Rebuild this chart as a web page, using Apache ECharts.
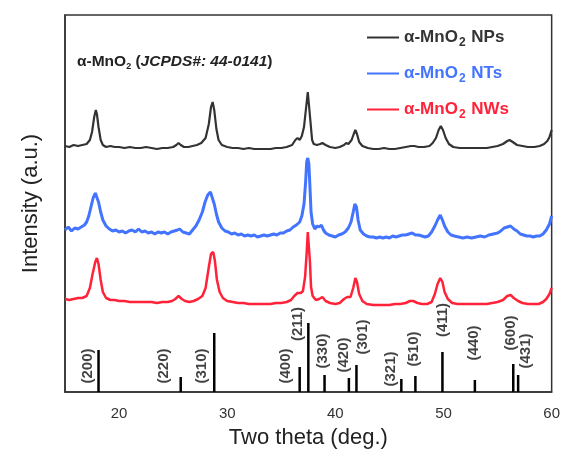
<!DOCTYPE html>
<html>
<head>
<meta charset="utf-8">
<script src="https://cdn.jsdelivr.net/npm/echarts@6/dist/echarts.min.js"></script>
<style>
  html, body { margin: 0; padding: 0; background: #fff; }
  #chart { width: 563px; height: 459px; }
</style>
</head>
<body>
<div id="chart"></div>
<script>
/* ── Data (2θ in degrees, intensity in a.u., stacked offsets baked in) ── */
const X_TICKS = [20, 30, 40, 50, 60];

const NP_CURVE = [
  [15.0, 246], [15.4, 245], [15.8, 247], [16.2, 246], [16.6, 247], [17.0, 248], [17.3, 252], [17.5, 260],
  [17.7, 275], [17.85, 282], [17.95, 278], [18.1, 265], [18.3, 252], [18.5, 247], [18.8, 245], [19.2, 246],
  [19.6, 245], [20.0, 245], [20.5, 244], [21.0, 245], [21.5, 244], [22.0, 244], [22.5, 245], [23.0, 244],
  [23.5, 243], [24.0, 244], [24.5, 244], [25.0, 245], [25.3, 247], [25.5, 249], [25.7, 247], [26.0, 245],
  [26.4, 245], [26.8, 246], [27.2, 247], [27.6, 249], [28.0, 254], [28.3, 268], [28.5, 285], [28.65, 290],
  [28.8, 282], [29.0, 263], [29.2, 252], [29.5, 247], [30.0, 245], [30.5, 244], [31.0, 244], [31.5, 243],
  [32.0, 244], [32.5, 243], [33.0, 243], [33.5, 243], [34.0, 243], [34.5, 244], [35.0, 244], [35.5, 245],
  [36.0, 247], [36.3, 252], [36.5, 254], [36.7, 252], [36.9, 256], [37.1, 265], [37.3, 285], [37.45, 300],
  [37.55, 298], [37.7, 270], [37.85, 252], [38.0, 248], [38.3, 247], [38.6, 248], [38.8, 249], [39.1, 247],
  [39.5, 245], [40.0, 244], [40.4, 245], [40.8, 247], [41.0, 249], [41.2, 248], [41.5, 252], [41.7, 258],
  [41.85, 262], [42.0, 258], [42.2, 250], [42.5, 246], [43.0, 244], [43.5, 243], [44.0, 243], [44.5, 244],
  [45.0, 243], [45.5, 243], [46.0, 244], [46.5, 245], [47.0, 246], [47.3, 246], [47.7, 245], [48.2, 245],
  [48.7, 246], [49.0, 249], [49.3, 254], [49.55, 262], [49.75, 266], [49.95, 262], [50.2, 254], [50.5, 248],
  [50.9, 245], [51.5, 244], [52.0, 244], [52.5, 244], [53.0, 244], [53.5, 244], [54.0, 244], [54.5, 245],
  [55.0, 246], [55.5, 248], [55.9, 251], [56.1, 252], [56.4, 250], [56.8, 247], [57.3, 246], [57.8, 245],
  [58.4, 245], [58.9, 246], [59.3, 248], [59.6, 251], [59.8, 255], [60.0, 262]
];

const NT_CURVE = [
  [15.0, 162], [15.3, 165], [15.6, 161], [15.9, 164], [16.2, 163], [16.5, 165], [16.8, 167], [17.0, 170],
  [17.2, 176], [17.4, 185], [17.6, 194], [17.8, 199], [17.95, 197], [18.1, 190], [18.3, 180], [18.5, 172],
  [18.8, 166], [19.1, 163], [19.4, 161], [19.7, 162], [20.0, 160], [20.3, 161], [20.6, 159], [20.9, 161],
  [21.2, 162], [21.5, 160], [21.8, 163], [22.1, 160], [22.4, 161], [22.7, 159], [23.0, 160], [23.3, 158],
  [23.6, 160], [23.9, 159], [24.2, 160], [24.5, 158], [24.8, 160], [25.1, 161], [25.4, 162], [25.6, 163],
  [25.9, 160], [26.2, 159], [26.5, 158], [26.8, 162], [27.1, 166], [27.4, 172], [27.7, 180], [27.95, 190],
  [28.2, 197], [28.45, 200], [28.6, 198], [28.8, 188], [29.0, 178], [29.2, 170], [29.5, 164], [29.8, 161],
  [30.1, 160], [30.4, 158], [30.7, 159], [31.0, 157], [31.3, 158], [31.6, 156], [31.9, 157], [32.2, 156],
  [32.5, 157], [32.8, 155], [33.1, 156], [33.4, 157], [33.7, 156], [34.0, 157], [34.3, 158], [34.6, 157],
  [34.9, 159], [35.2, 159], [35.5, 161], [35.8, 162], [36.1, 165], [36.4, 167], [36.7, 170], [36.9, 176],
  [37.1, 188], [37.25, 210], [37.35, 230], [37.45, 234], [37.55, 228], [37.65, 205], [37.75, 180], [37.9, 168],
  [38.1, 163], [38.3, 166], [38.5, 165], [38.7, 167], [38.9, 162], [39.1, 159], [39.4, 157], [39.7, 156],
  [40.0, 155], [40.3, 157], [40.6, 158], [40.9, 160], [41.2, 164], [41.45, 170], [41.65, 180], [41.8, 188],
  [41.95, 185], [42.1, 172], [42.3, 162], [42.6, 158], [42.9, 156], [43.2, 155], [43.5, 155], [43.8, 154],
  [44.1, 155], [44.4, 154], [44.7, 155], [45.0, 154], [45.3, 156], [45.6, 155], [45.9, 156], [46.2, 157],
  [46.5, 157], [46.8, 158], [47.1, 159], [47.4, 157], [47.7, 157], [48.0, 156], [48.3, 155], [48.6, 156],
  [48.9, 160], [49.2, 166], [49.45, 172], [49.7, 177], [49.9, 172], [50.1, 166], [50.4, 160], [50.7, 157],
  [51.0, 156], [51.4, 155], [51.8, 154], [52.2, 155], [52.6, 154], [53.0, 155], [53.4, 156], [53.8, 155],
  [54.2, 157], [54.6, 158], [55.0, 159], [55.3, 161], [55.6, 164], [55.9, 165], [56.2, 166], [56.5, 163],
  [56.8, 161], [57.1, 158], [57.4, 157], [57.7, 156], [58.0, 156], [58.3, 155], [58.6, 156], [58.9, 156],
  [59.2, 158], [59.5, 162], [59.8, 168], [60.0, 176]
];

const NW_CURVE = [
  [15.0, 93], [15.4, 92], [15.8, 93], [16.2, 94], [16.6, 94], [17.0, 96], [17.3, 104], [17.55, 118],
  [17.8, 130], [17.95, 134], [18.1, 128], [18.3, 112], [18.5, 100], [18.8, 94], [19.2, 92], [19.6, 92],
  [20.0, 91], [20.5, 91], [21.0, 90], [21.5, 90], [22.0, 90], [22.5, 90], [23.0, 90], [23.5, 89],
  [24.0, 90], [24.5, 90], [24.9, 91], [25.2, 93], [25.5, 96], [25.8, 93], [26.1, 91], [26.5, 90],
  [26.9, 91], [27.3, 93], [27.7, 96], [28.0, 104], [28.3, 125], [28.5, 138], [28.7, 140], [28.85, 132],
  [29.05, 112], [29.3, 100], [29.6, 94], [30.0, 91], [30.5, 90], [31.0, 89], [31.5, 89], [32.0, 88],
  [32.5, 88], [33.0, 88], [33.5, 88], [34.0, 88], [34.5, 89], [35.0, 89], [35.5, 90], [35.9, 92],
  [36.2, 96], [36.5, 99], [36.8, 99], [37.0, 101], [37.2, 115], [37.35, 140], [37.45, 160], [37.55, 158],
  [37.65, 130], [37.75, 105], [37.9, 96], [38.2, 92], [38.5, 93], [38.8, 95], [39.1, 91], [39.5, 89],
  [40.0, 88], [40.4, 89], [40.8, 93], [41.1, 95], [41.4, 95], [41.65, 104], [41.85, 114], [42.0, 110],
  [42.2, 98], [42.5, 91], [42.9, 88], [43.5, 87], [44.0, 87], [44.5, 87], [45.0, 87], [45.5, 88],
  [46.0, 88], [46.5, 89], [46.9, 91], [47.2, 91], [47.6, 89], [48.0, 88], [48.5, 88], [48.9, 90],
  [49.2, 98], [49.45, 108], [49.7, 114], [49.9, 110], [50.1, 100], [50.4, 93], [50.8, 89], [51.3, 88],
  [52.0, 88], [52.5, 88], [53.0, 88], [53.5, 88], [54.0, 88], [54.5, 89], [55.0, 90], [55.5, 92],
  [55.9, 96], [56.2, 97], [56.5, 94], [56.9, 91], [57.3, 89], [57.8, 88], [58.3, 88], [58.8, 88],
  [59.2, 90], [59.5, 93], [59.8, 98], [60.0, 104]
];

// JCPDS 44-0141 reference lines
const HKL_NAMES  = ['(200)', '(220)', '(310)', '(400)', '(211)', '(330)', '(420)', '(301)', '(321)', '(510)', '(411)', '(440)', '(600)', '(431)'];
const HKL_THETA  = [18.1, 25.7, 28.8, 36.7, 37.5, 39.0, 41.25, 41.95, 46.1, 47.4, 49.9, 52.9, 56.45, 56.9];
const HKL_HEIGHT = [42, 15, 59, 25, 69, 17, 14, 27, 13, 16, 40, 12, 28, 17];
// where each hkl tag sits (2θ, intensity)
const HKL_TAG_X  = [17.15, 24.1, 27.65, 35.4, 36.5, 38.8, 40.8, 42.5, 45.1, 47.3, 49.9, 52.8, 56.2, 57.6];
const HKL_TAG_Y  = [26, 26, 26, 26, 68, 41, 37, 55, 23, 43, 72, 49, 59, 41];

/* ── Colours ── */
const C_NP = '#333333';
const C_NT = '#4274FF';
const C_NW = '#FF2238';
const FONT = '"Liberation Sans", Arial, sans-serif';

const chart = echarts.init(document.getElementById('chart'), null, { renderer: 'canvas' });

const legendRich = {
  t: { fontSize: 17, fontWeight: 'bold', fontFamily: FONT },
  s: { fontSize: 12, fontWeight: 'bold', fontFamily: FONT, padding: [11, 1, 0, 1] },
};

chart.setOption({
  animation: false,
  textStyle: { fontFamily: FONT },
  grid: {
    left: 65, right: 11, top: 15, bottom: 67,
    show: true, borderColor: '#333', borderWidth: 1.5,
  },
  legend: {
    orient: 'vertical',
    left: 362, top: 24,
    itemGap: 16,
    icon: 'rect',
    itemWidth: 32, itemHeight: 2,
    selectedMode: false,
    formatter: (name) => '{t|' + name.replace('MnO2', 'MnO}{s|2}{t|') + '}',
    textStyle: { rich: legendRich },
    data: [
      { name: 'α-MnO2 NPs', textStyle: { color: C_NP } },
      { name: 'α-MnO2 NTs', textStyle: { color: C_NT } },
      { name: 'α-MnO2 NWs', textStyle: { color: C_NW } },
    ],
  },
  graphic: [{
    type: 'text',
    left: 77, top: 54,
    style: {
      text: '{b|α-MnO}{s|2}{b| (}{i|JCPDS#: 44-0141}{b|)}',
      fill: '#222',
      rich: {
        b: { fontSize: 15.5, fontWeight: 'bold', fontFamily: FONT, fill: '#222' },
        i: { fontSize: 15.5, fontWeight: 'bold', fontStyle: 'italic', fontFamily: FONT, fill: '#222' },
        s: { fontSize: 9, fontWeight: 'bold', fontFamily: FONT, fill: '#222', padding: [9, 0, 0, 0] },
      },
    },
  }],
  xAxis: {
    type: 'value',
    min: 15, max: 60,
    name: 'Two theta (deg.)',
    nameLocation: 'middle',
    nameGap: 35,
    nameTextStyle: { fontSize: 22, color: '#222' },
    axisLine: { lineStyle: { color: '#333', width: 1.5 } },
    axisTick: { show: false },
    axisLabel: { customValues: X_TICKS, fontSize: 15, color: '#333', margin: 14 },
    splitLine: { show: false },
  },
  yAxis: {
    type: 'value',
    min: 0, max: 377,
    name: 'Intensity (a.u.)',
    nameLocation: 'middle',
    nameGap: 23,
    nameTextStyle: { fontSize: 22, color: '#222' },
    axisLine: { show: true, lineStyle: { color: '#333', width: 1.5 } },
    axisTick: { show: false },
    axisLabel: { show: false },
    splitLine: { show: false },
  },
  series: [
    { name: 'α-MnO2 NPs', type: 'line', data: NP_CURVE, symbol: 'none', lineStyle: { color: C_NP, width: 2.2 }, itemStyle: { color: C_NP } },
    { name: 'α-MnO2 NTs', type: 'line', data: NT_CURVE, symbol: 'none', lineStyle: { color: C_NT, width: 3 }, itemStyle: { color: C_NT } },
    { name: 'α-MnO2 NWs', type: 'line', data: NW_CURVE, symbol: 'none', lineStyle: { color: C_NW, width: 2.5 }, itemStyle: { color: C_NW } },
    {
      name: 'JCPDS',
      type: 'bar',
      barWidth: 2.5,
      itemStyle: { color: '#000' },
      data: HKL_THETA.map((t, i) => [t, HKL_HEIGHT[i]]),
    },
    {
      name: 'hkl',
      type: 'scatter',
      symbolSize: 0,
      silent: true,
      label: {
        show: true,
        position: 'inside',
        rotate: 90,
        fontSize: 15,
        fontWeight: 'bold',
        color: '#111',
        formatter: (p) => p.data[2],
      },
      data: HKL_TAG_X.map((x, i) => [x, HKL_TAG_Y[i], HKL_NAMES[i]]),
    },
  ],
});
</script>
</body>
</html>
